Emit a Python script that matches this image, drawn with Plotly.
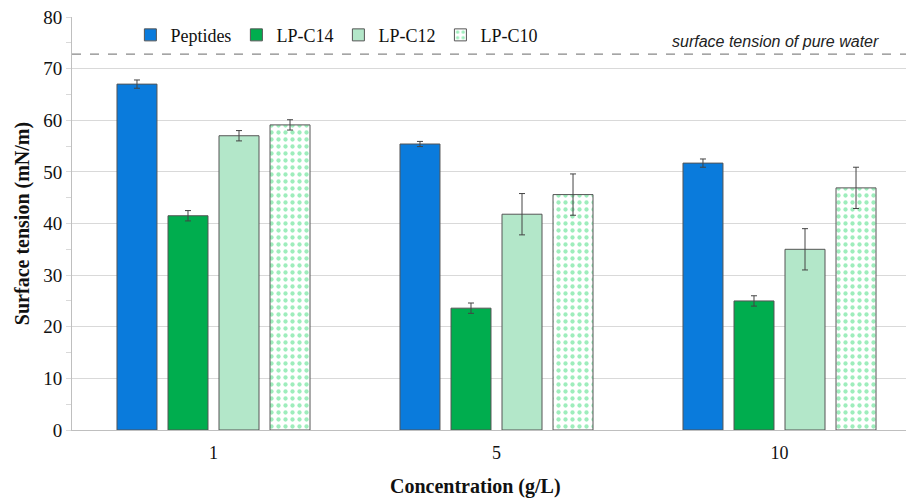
import plotly.graph_objects as go

categories = ["1", "5", "10"]
series_names = ["Peptides", "LP-C14", "LP-C12", "LP-C10"]
peptides = [67.0, 55.4, 51.7]
peptides_err = [0.8, 0.5, 0.8]
lp_c14 = [41.5, 23.6, 25.0]
lp_c14_err = [1.0, 1.0, 1.0]
lp_c12 = [57.0, 41.8, 35.0]
lp_c12_err = [1.0, 4.0, 4.0]
lp_c10 = [59.1, 45.6, 46.9]
lp_c10_err = [1.0, 4.0, 4.0]
water_tension = 72.8

values = [peptides, lp_c14, lp_c12, lp_c10]
errors = [peptides_err, lp_c14_err, lp_c12_err, lp_c10_err]
fills = ["#0a7bdc", "#00ad4e", "#b3e7c9", "#ffffff"]

serif = "Liberation Serif, Times New Roman, serif"

fig = go.Figure()
for name, vals, errs, fill in zip(series_names, values, errors, fills):
    marker = dict(color=fill, line=dict(color="#555555", width=1))
    if name == "LP-C10":
        marker["pattern"] = dict(shape=".", fgcolor="#3ddc7a", bgcolor="#ffffff",
                                 size=7, solidity=0.3, fillmode="overlay")
    fig.add_trace(go.Bar(
        name=name, x=categories, y=vals, marker=marker,
        error_y=dict(type="data", array=errs, visible=True, color="#444444",
                     thickness=1, width=3),
    ))

fig.add_shape(type="line", xref="paper", yref="y", x0=0, x1=1,
              y0=water_tension, y1=water_tension,
              line=dict(color="#888888", width=1.2, dash="dash"))
fig.add_annotation(text="surface tension of pure water", xref="paper", yref="y",
                   x=0.97, y=water_tension, xanchor="right", yanchor="bottom",
                   showarrow=False, yshift=2,
                   font=dict(family="Liberation Sans, Arial, sans-serif", size=16,
                             color="#222222", style="italic"))
fig.add_annotation(text="<b>Concentration (g/L)</b>", xref="paper", yref="paper",
                   x=0.484, y=-0.138, xanchor="center", yanchor="middle",
                   showarrow=False, font=dict(family=serif, size=20, color="#111111"))

fig.update_layout(
    width=907, height=498,
    margin=dict(l=72, r=1, t=17, b=68),
    paper_bgcolor="white", plot_bgcolor="white",
    barmode="group", bargap=0.279, bargroupgap=0.216,
    font=dict(family=serif, size=18, color="#111111"),
    showlegend=True,
    legend=dict(orientation="h", x=0.07, y=0.956, xanchor="left", yanchor="middle",
                font=dict(family=serif, size=18), bgcolor="rgba(0,0,0,0)",
                itemwidth=30, traceorder="normal"),
    xaxis=dict(
        type="category", range=[-0.5, 2.447],
        showgrid=False, showline=True, linecolor="#bfbfbf", linewidth=1,
        ticks="", tickfont=dict(family=serif, size=18), ticklabelstandoff=6,
    ),
    yaxis=dict(
        range=[0, 80], dtick=10, showgrid=True, gridcolor="#d9d9d9", gridwidth=1,
        showline=True, linecolor="#bfbfbf", linewidth=1,
        ticks="outside", ticklen=5, tickcolor="#d9d9d9",
        minor=dict(dtick=5, ticks="outside", ticklen=5, tickcolor="#d9d9d9", showgrid=False),
        tickfont=dict(family=serif, size=19),
        zeroline=False,
        title=dict(text="<b>Surface tension (mN/m)</b>", font=dict(family=serif, size=20),
                   standoff=8),
    ),
)

fig.write_html("out.html")
